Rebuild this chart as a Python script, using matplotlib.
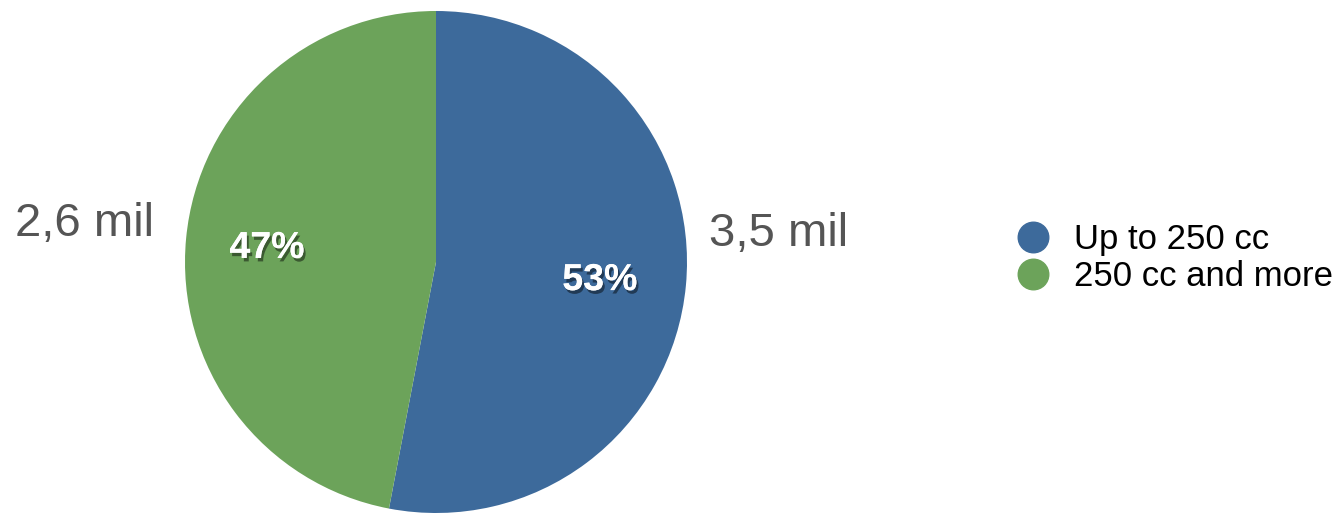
import matplotlib
matplotlib.use("Agg")
import matplotlib.pyplot as plt
from matplotlib.lines import Line2D
import matplotlib.patheffects as pe

categories = ["Up to 250 cc", "250 cc and more"]
shares = [53, 47]
pct_labels = ["53%", "47%"]
value_labels = ["3,5 mil", "2,6 mil"]
colors = ["#3d6a9b", "#6ca35a"]

plt.rcParams['font.family'] = ['Liberation Sans', 'DejaVu Sans']

W, H = 1339, 513
fig = plt.figure(figsize=(W / 100, H / 100), dpi=100)
cx, cy, r = 436, 262, 251
ax = fig.add_axes([(cx - r) / W, (H - cy - r) / H, 2 * r / W, 2 * r / H])
ax.set_aspect('equal')
ax.axis('off')

wedges, _ = ax.pie(shares, colors=colors, startangle=90, counterclock=False,
                   radius=1, wedgeprops=dict(linewidth=0))
ax.set_xlim(-1, 1)
ax.set_ylim(-1, 1)

pct_pos = [(0.653, -0.072), (-0.673, 0.056)]
val_pos = [(1.366, 0.11), (-1.40, 0.15)]
for (x, y), t in zip(pct_pos, pct_labels):
    ax.text(x, y, t, ha='center', va='center', fontsize=27, fontweight='bold',
            color='white',
            path_effects=[pe.withSimplePatchShadow(offset=(1.5, -2.5), shadow_rgbFace='black', alpha=0.45),
                          pe.Normal()])
for (x, y), t in zip(val_pos, value_labels):
    ax.text(x, y, t, ha='center', va='center', fontsize=34, color='#555555', clip_on=False)

handles = [Line2D([], [], marker='o', linestyle='none', markersize=22,
                  markerfacecolor=c, markeredgecolor=c) for c in colors]
fig.legend(handles, categories, loc='center left',
           bbox_to_anchor=(1016 / W, 1 - 258 / H), frameon=False, fontsize=25,
           handletextpad=0.67, labelspacing=0.11, handlelength=1.0, borderaxespad=0,
           borderpad=0)

fig.savefig("out.png", dpi=100)
